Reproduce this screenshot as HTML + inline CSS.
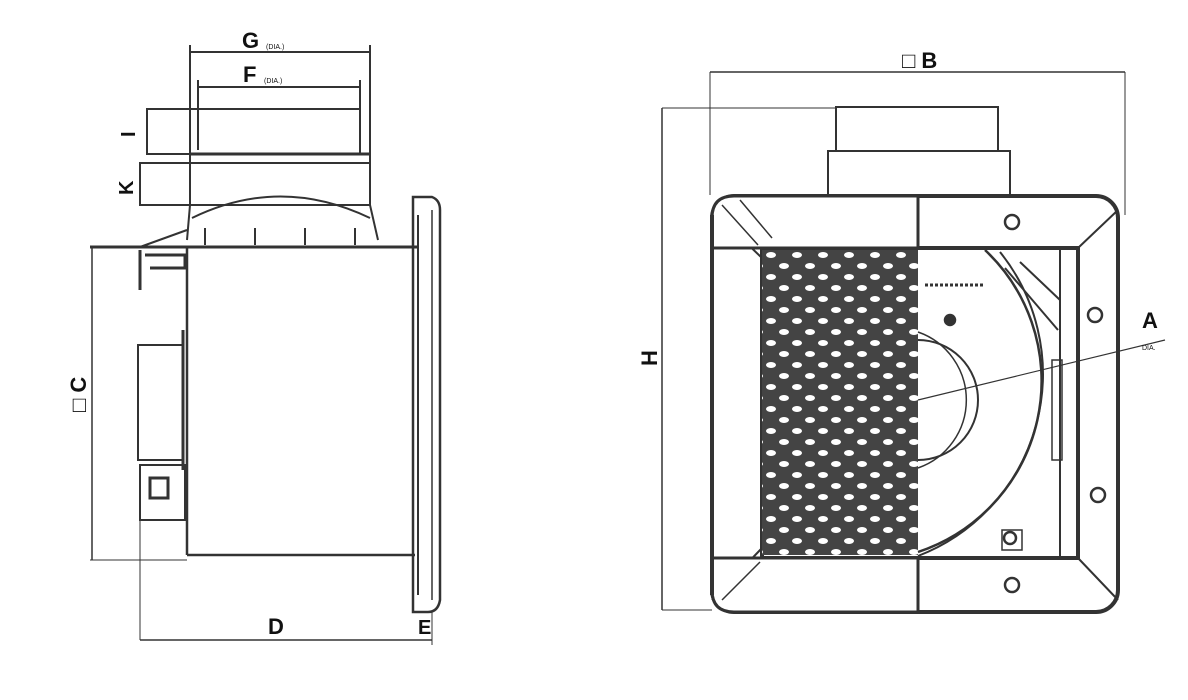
<!DOCTYPE html>
<html><head><meta charset="utf-8"><style>
html,body{margin:0;padding:0;background:#fff;}
svg{display:block}
text{font-family:"Liberation Sans",sans-serif;font-weight:bold;fill:#111}
</style></head><body>
<svg width="1188" height="700" viewBox="0 0 1188 700" xmlns="http://www.w3.org/2000/svg">
<defs>
<pattern id="grille" x="765" y="250" width="26" height="22" patternUnits="userSpaceOnUse">
<rect width="26" height="22" fill="#444"/>
<ellipse cx="6" cy="5" rx="5" ry="3" fill="#fff"/>
<ellipse cx="19" cy="16" rx="5" ry="3" fill="#fff"/>
</pattern>
</defs>
<g stroke="#333" fill="none" stroke-width="2">
<line x1="190" y1="52" x2="370" y2="52"/>
<line x1="198" y1="87" x2="360" y2="87"/>
<line x1="190" y1="45" x2="190" y2="205"/>
<line x1="370" y1="45" x2="370" y2="205"/>
<line x1="198" y1="80" x2="198" y2="150"/>
<line x1="360" y1="80" x2="360" y2="150"/>
<rect x="147" y="109" width="213" height="45"/>
<line x1="190" y1="154" x2="370" y2="154" stroke-width="3"/>
<rect x="140" y="163" width="230" height="42"/>
<path d="M190 205 L187 240 M370 205 L378 240"/>
<path d="M192 218 Q280 175 370 218"/>
<line x1="205" y1="228" x2="205" y2="245"/><line x1="255" y1="228" x2="255" y2="245"/><line x1="305" y1="228" x2="305" y2="245"/><line x1="355" y1="228" x2="355" y2="245"/>
<path d="M140 247 L187 230"/>
<line x1="90" y1="247" x2="418" y2="247" stroke-width="3"/>
<line x1="187" y1="247" x2="187" y2="555" stroke-width="2.5"/>
<line x1="187" y1="555" x2="415" y2="555" stroke-width="2.5"/>
<line x1="90" y1="560" x2="187" y2="560" stroke-width="1"/>
<line x1="92" y1="247" x2="92" y2="560" stroke-width="1.5"/>
<path d="M140 250 L140 290 M145 255 L185 255 L185 268 L150 268" stroke-width="3"/>
<rect x="138" y="345" width="45" height="115" stroke-width="2"/>
<line x1="183" y1="330" x2="183" y2="470" stroke-width="3"/>
<path d="M140 465 L185 465 L185 520 L140 520 Z" stroke-width="2"/>
<rect x="150" y="478" width="18" height="20" stroke-width="3"/>
<path d="M413 197 L432 197 Q440 200 440 210 L440 600 Q438 612 428 612 L413 612 Z" stroke-width="2.5"/>
<line x1="418" y1="215" x2="418" y2="595"/>
<line x1="432" y1="210" x2="432" y2="600" stroke-width="1.5"/>
<line x1="140" y1="520" x2="140" y2="640" stroke-width="1"/>
<line x1="140" y1="640" x2="432" y2="640" stroke-width="1.5"/>
<line x1="432" y1="612" x2="432" y2="645" stroke-width="1"/>

<line x1="710" y1="72" x2="1125" y2="72" stroke-width="1.5"/>
<line x1="710" y1="72" x2="710" y2="195" stroke-width="1"/>
<line x1="1125" y1="72" x2="1125" y2="215" stroke-width="1"/>
<line x1="662" y1="108" x2="662" y2="610" stroke-width="1.5"/>
<line x1="662" y1="108" x2="836" y2="108" stroke-width="1"/>
<line x1="662" y1="610" x2="712" y2="610" stroke-width="1"/>
<rect x="836" y="107" width="162" height="44" stroke-width="2"/>
<rect x="828" y="151" width="182" height="45" stroke-width="2"/>
<rect x="712" y="196" width="406" height="416" rx="22" stroke-width="4"/>
<rect x="762" y="248" width="316" height="310" stroke-width="4"/>
<line x1="1060" y1="248" x2="1060" y2="558" stroke-width="2"/>
<path d="M712 210 L762 258 M725 200 L772 248 M712 600 L762 548 M725 612 L772 558 M1118 210 L1078 248 M1118 600 L1078 558" stroke-width="2"/>
</g>
<rect x="762" y="250" width="156" height="305" fill="url(#grille)"/>
<g stroke="#333" fill="none" stroke-width="2.5">
<path d="M918 196 L734 196 Q712 196 712 218 L712 248 L918 248 Z" fill="#fff" stroke-width="3"/>
<path d="M918 558 L712 558 L712 590 Q712 612 734 612 L918 612 Z" fill="#fff" stroke-width="3"/>
<path d="M712 215 L712 595" stroke-width="4"/>
<path d="M722 205 L758 245 M740 200 L772 238 M722 600 L760 562" stroke-width="1.5"/>
<path d="M985 250 A180 180 0 0 1 918 552"/>
<path d="M1000 252 A195 195 0 0 1 918 556" stroke-width="2"/>
<path d="M918 340 A60 60 0 0 1 918 460" stroke-width="2"/>
<path d="M918 332 A72 72 0 0 1 918 468" stroke-width="1.5"/>
<line x1="918" y1="400" x2="1165" y2="340" stroke-width="1.2"/>
<line x1="925" y1="285" x2="985" y2="285" stroke-width="3" stroke-dasharray="3 2"/>
<path d="M1005 268 L1058 330 M1020 262 L1060 300" stroke-width="2"/>
<circle cx="1012" cy="222" r="7"/><circle cx="1095" cy="315" r="7"/><circle cx="1098" cy="495" r="7"/><circle cx="1012" cy="585" r="7"/><circle cx="1010" cy="538" r="6"/>
<rect x="1002" y="530" width="20" height="20" stroke-width="1.5"/>
<rect x="1052" y="360" width="10" height="100" stroke-width="1.5"/>
<circle cx="950" cy="320" r="5" fill="#333"/>
</g>
<text x="242" y="48" font-size="22">G</text>
<text x="266" y="49" font-size="7" fill="#a86" style="font-weight:normal">(DIA.)</text>
<text x="243" y="82" font-size="22">F</text>
<text x="264" y="83" font-size="7" fill="#a86" style="font-weight:normal">(DIA.)</text>
<text x="0" y="0" font-size="20" transform="translate(135,137) rotate(-90)">I</text>
<text x="0" y="0" font-size="20" transform="translate(133,195) rotate(-90)">K</text>
<text x="0" y="0" font-size="22" transform="translate(86,412) rotate(-90)">□ C</text>
<text x="268" y="634" font-size="22">D</text>
<text x="418" y="634" font-size="20">E</text>
<text x="902" y="68" font-size="22">□ B</text>
<text x="0" y="0" font-size="22" transform="translate(657,366) rotate(-90)">H</text>
<text x="1142" y="328" font-size="22">A</text>
<text x="1142" y="350" font-size="7" fill="#a86" style="font-weight:normal">DIA.</text>
</svg>
</body></html>
